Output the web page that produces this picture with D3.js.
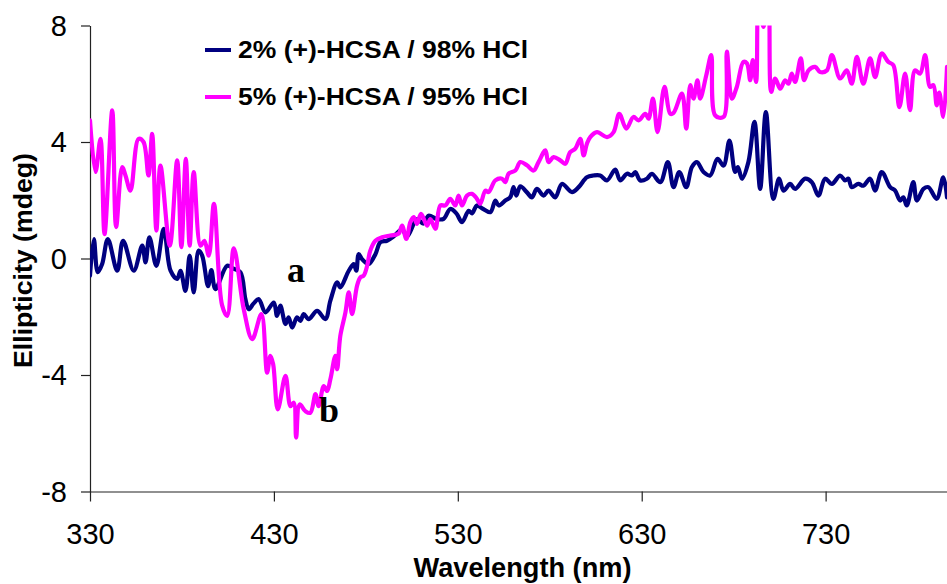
<!DOCTYPE html>
<html>
<head>
<meta charset="utf-8">
<script src="https://cdn.jsdelivr.net/npm/d3@7"></script>
<style>
  html, body { margin: 0; padding: 0; background: #fff; }
  svg { display: block; }
</style>
</head>
<body>
<svg id="chart" width="947" height="584"></svg>
<script>
// CD spectra of polyaniline doped with (+)-HCSA / HCl mixtures
const seriesNames = ["2% (+)-HCSA / 98% HCl", "5% (+)-HCSA / 95% HCl"];
const seriesColors = ["#000080", "#FF00FF"];

// Series a: 2% (+)-HCSA — wavelength (nm) and ellipticity (mdeg)
const wl2 = [330, 332.1, 334.2, 336.6, 339.7, 344.8, 348.0, 353.8, 358.4, 360.2, 362.3, 366.1, 370.1, 373.8, 377.4, 379.2, 381.9, 384.2, 386.4, 389.1, 391.0, 394.2, 396.0, 398.2, 404.6, 408.0, 411.8, 414.5, 416.3, 418.9, 421.7, 425.4, 429.9, 431.7, 433.5, 436.3, 438.0, 439.9, 442.6, 444.4, 446.2, 448.9, 453.5, 458.0, 460.7, 464.4, 466.1, 470.7, 473.4, 474.8, 476.1, 477.9, 481.5, 485.2, 487.9, 491.5, 495.0, 499.7, 502.4, 507.8, 511.3, 514.1, 518.7, 522.3, 525.9, 529.2, 532.3, 535.9, 537.7, 540.4, 543.2, 547.7, 550.4, 552.2, 555.8, 558.5, 560.3, 561.8, 564.0, 567.6, 570.3, 573.0, 576.6, 579.3, 583.0, 586.6, 592.1, 595.7, 600.2, 603.8, 607.4, 611.1, 615.6, 618.3, 622.0, 624.7, 626.5, 629.2, 632.8, 635.5, 640.1, 644.2, 647.3, 650.4, 654.2, 657.3, 660.0, 663.6, 667.2, 671.2, 674.5, 677.7, 680.8, 682.3, 684.5, 688.0, 691.3, 694.4, 697.5, 701.6, 704.7, 707.1, 710.7, 713.4, 718.9, 722.5, 726.1, 729.7, 733.4, 737.9, 740.6, 742.4, 744.2, 747.8, 750.5, 754.2, 756.9, 760.5, 765.1, 767.8, 770.5, 772.3, 774.1, 777.7, 779.6, 783.2, 785.9, 790.4, 794.0, 796.0];
const ell2 = [-0.59, 0.67, -0.47, -0.19, 0.67, -0.42, 0.61, -0.42, 0.44, -0.13, 0.73, -0.25, 1.02, -0.42, -0.70, -0.42, -1.11, 0.10, -1.16, 0.27, 0.10, -0.95, -0.40, -1.05, -0.25, -0.35, -0.47, -1.39, -1.74, -1.55, -1.39, -1.85, -1.51, -1.97, -1.62, -2.25, -2.02, -2.37, -2.02, -2.14, -1.91, -2.08, -1.80, -2.08, -1.45, -0.82, -0.99, -0.42, -0.19, -0.42, 0.15, -0.02, -0.19, 0.15, 0.56, 0.61, 0.75, 1.00, 0.75, 1.35, 1.20, 1.47, 1.35, 1.36, 1.70, 1.55, 1.25, 1.64, 1.55, 1.82, 1.72, 1.59, 1.99, 1.82, 1.99, 2.10, 2.45, 2.16, 2.48, 2.27, 2.10, 2.39, 2.16, 2.33, 2.10, 2.56, 2.28, 2.45, 2.79, 2.85, 2.85, 2.68, 3.05, 2.68, 2.91, 2.85, 2.97, 2.68, 2.74, 2.91, 2.62, 3.31, 2.45, 2.97, 2.45, 3.14, 3.31, 2.97, 2.85, 3.42, 3.19, 4.05, 2.97, 3.14, 2.74, 3.31, 4.69, 2.39, 5.03, 2.05, 2.74, 2.33, 2.56, 2.39, 2.74, 2.62, 2.16, 2.74, 2.56, 2.85, 2.68, 2.74, 2.45, 2.56, 2.50, 2.74, 2.33, 2.97, 2.45, 2.33, 1.99, 2.10, 1.82, 2.62, 1.99, 2.39, 2.45, 2.05, 2.79, 2.10];

// Series b: 5% (+)-HCSA — wavelength (nm) and ellipticity (mdeg)
const wl5 = [330.0, 333.0, 335.7, 337.9, 342.1, 344.2, 347.5, 349.3, 352.0, 356.4, 359.1, 361.8, 363.8, 366.1, 368.3, 373.4, 377.4, 379.7, 382.1, 384.2, 386.4, 390.1, 392.2, 394.6, 397.4, 401.8, 404.6, 408.2, 413.6, 418.2, 423.2, 426.3, 428.1, 429.6, 432.1, 436.3, 439.0, 440.8, 442.1, 444.0, 447.1, 449.8, 452.6, 454.3, 457.1, 458.9, 460.7, 463.4, 464.4, 466.1, 468.9, 470.7, 472.5, 475.2, 477.0, 478.8, 480.7, 482.4, 485.2, 488.8, 493.3, 497.8, 499.7, 502.0, 504.2, 506.0, 507.8, 510.0, 513.3, 515.1, 517.8, 520.5, 523.2, 525.9, 528.6, 530.4, 532.3, 535.0, 537.7, 540.4, 542.2, 545.0, 546.7, 550.4, 554.0, 555.8, 557.6, 561.3, 564.0, 567.6, 571.2, 573.9, 577.6, 579.3, 582.1, 585.7, 588.4, 591.1, 593.9, 596.6, 598.4, 600.2, 602.0, 605.7, 611.1, 614.7, 617.8, 621.6, 625.5, 628.3, 631.9, 633.7, 636.1, 638.6, 642.4, 645.5, 647.3, 651.9, 654.2, 656.4, 658.2, 660.3, 661.8, 665.1, 667.8, 670.0, 674.5, 676.3, 679.0, 681.7, 685.3, 687.2, 689.0, 690.4, 692.2, 693.5, 696.2, 698.9, 700.4, 702.6, 705.3, 708.0, 709.8, 711.6, 713.4, 716.5, 718.3, 720.7, 724.3, 727.0, 730.7, 733.4, 737.9, 741.5, 744.2, 747.0, 750.5, 754.2, 756.9, 760.5, 764.1, 766.8, 770.1, 773.2, 775.9, 778.6, 781.4, 784.1, 786.8, 788.6, 790.4, 791.8, 794.0, 796.0];
const ell5 = [4.74, 2.97, 4.11, 0.84, 5.09, 1.08, 3.14, 2.85, 2.33, 4.11, 4.00, 2.85, 4.28, 0.96, 3.19, 0.44, 3.37, 0.39, 3.42, 0.44, 2.97, 0.44, 0.61, 0.10, 1.88, -1.60, -1.97, 0.35, -1.74, -2.77, -1.91, -3.92, -3.34, -3.63, -5.18, -4.03, -5.07, -4.95, -6.15, -5.01, -5.24, -5.30, -4.66, -5.07, -4.38, -4.55, -4.15, -3.34, -3.80, -2.66, -1.85, -1.16, -1.91, -0.94, -0.65, -0.59, -0.25, 0.27, 0.61, 0.73, 0.79, 0.85, 1.13, 0.67, 1.25, 1.42, 1.19, 1.53, 1.13, 1.35, 1.02, 1.82, 1.82, 2.05, 1.82, 2.16, 1.82, 2.16, 2.22, 2.05, 1.88, 2.33, 2.28, 2.68, 2.74, 2.62, 2.91, 3.02, 3.31, 3.20, 3.02, 3.31, 3.71, 3.31, 3.48, 3.37, 3.25, 3.65, 3.77, 4.11, 3.54, 3.94, 4.17, 4.34, 4.17, 4.34, 4.97, 4.46, 4.86, 4.74, 4.97, 4.80, 5.49, 4.34, 5.89, 4.97, 5.00, 5.66, 4.46, 5.95, 5.49, 6.12, 5.49, 6.29, 6.98, 4.91, 4.86, 7.10, 5.49, 5.89, 6.75, 6.70, 6.12, 6.81, 6.06, 9.00, 7.95, 9.00, 5.72, 6.18, 5.83, 6.12, 6.00, 6.35, 6.06, 6.87, 6.12, 6.46, 6.58, 6.40, 6.46, 6.98, 6.18, 6.46, 6.00, 6.92, 6.00, 6.87, 6.23, 7.04, 6.75, 6.64, 5.20, 6.35, 5.09, 6.46, 6.35, 6.98, 5.89, 5.95, 5.26, 5.70, 4.86, 6.58];

const xTicks = [330, 430, 530, 630, 730];
const yTicks = [-8, -4, 0, 4, 8];
const xTitle = "Wavelength (nm)";
const yTitle = "Ellipticity (mdeg)";
const curveLabels = [
  { text: "a", wl: 442, v: -0.8 },
  { text: "b", wl: 460, v: -5.6 }
];

const svg = d3.select("#chart");
const W = 947, H = 584;
const plot = { left: 90, right: 947, top: 25.5, bottom: 491.5 };

const x = d3.scaleLinear().domain([330, 796]).range([plot.left, plot.right]);
const y = d3.scaleLinear().domain([-8, 8]).range([plot.bottom, plot.top]);

const sans = "'Liberation Sans', Arial, Helvetica, sans-serif";
const serif = "'Liberation Serif', 'Times New Roman', serif";
// plain hyphen-minus for negative tick values
const plainNumber = d => String(d);

svg.append("rect").attr("width", W).attr("height", H).attr("fill", "#fff");

svg.append("defs").append("clipPath").attr("id", "plotClip")
  .append("rect")
  .attr("x", plot.left).attr("y", plot.top)
  .attr("width", plot.right - plot.left).attr("height", plot.bottom - plot.top);

// Axes
const xAxis = d3.axisBottom(x).tickValues(xTicks).tickFormat(plainNumber)
  .tickSize(10).tickPadding(22).tickSizeOuter(0);
const yAxis = d3.axisLeft(y).tickValues(yTicks).tickFormat(plainNumber)
  .tickSize(9).tickPadding(14).tickSizeOuter(0);

const gx = svg.append("g").attr("transform", `translate(0,${plot.bottom})`).call(xAxis);
const gy = svg.append("g").attr("transform", `translate(${plot.left},0)`).call(yAxis);

[gx, gy].forEach(g => {
  g.select(".domain").attr("stroke", "#222").attr("stroke-width", 1.2);
  g.selectAll(".tick line").attr("stroke", "#222").attr("stroke-width", 1.2);
  g.selectAll(".tick text")
    .attr("fill", "#000")
    .style("font-family", sans)
    .style("font-size", "29px");
});
gx.selectAll(".tick text").attr("dy", "0.71em");
gy.selectAll(".tick text").attr("dy", "0.34em");

// Axis titles
svg.append("text")
  .attr("x", (plot.left + plot.right) / 2 + 4).attr("y", 577)
  .attr("text-anchor", "middle")
  .attr("textLength", 218).attr("lengthAdjust", "spacingAndGlyphs")
  .style("font-family", sans).style("font-weight", "bold").style("font-size", "27px")
  .text(xTitle);

svg.append("text")
  .attr("transform", `translate(32,${(plot.top + plot.bottom) / 2 + 2}) rotate(-90)`)
  .attr("text-anchor", "middle")
  .attr("textLength", 215).attr("lengthAdjust", "spacingAndGlyphs")
  .style("font-family", sans).style("font-weight", "bold").style("font-size", "26px")
  .text(yTitle);

// Spectra
const line = d3.line()
  .x(d => x(d[0]))
  .y(d => y(d[1]))
  .curve(d3.curveCatmullRom.alpha(0.5));

const series = [
  d3.zip(wl2, ell2),
  d3.zip(wl5, ell5)
];

const lines = svg.append("g").attr("clip-path", "url(#plotClip)");
lines.selectAll("path")
  .data(series)
  .join("path")
  .attr("d", line)
  .attr("fill", "none")
  .attr("stroke", (d, i) => seriesColors[i])
  .attr("stroke-width", 4.2)
  .attr("stroke-linejoin", "round")
  .attr("stroke-linecap", "round");

// Curve labels
svg.selectAll(".curve-label")
  .data(curveLabels)
  .join("text")
  .attr("class", "curve-label")
  .attr("x", d => x(d.wl))
  .attr("y", d => y(d.v))
  .attr("text-anchor", "middle")
  .style("font-family", serif).style("font-weight", "bold").style("font-size", "36px")
  .text(d => d.text);

// Legend
const legend = svg.append("g").attr("transform", "translate(205,50)");
const items = legend.selectAll("g")
  .data(seriesNames)
  .join("g")
  .attr("transform", (d, i) => `translate(0,${i * 47})`);
items.append("line")
  .attr("x1", 0).attr("x2", 26).attr("y1", 0).attr("y2", 0)
  .attr("stroke", (d, i) => seriesColors[i])
  .attr("stroke-width", 4);
items.append("text")
  .attr("x", 33).attr("y", 0).attr("dy", "0.35em")
  .attr("textLength", 290).attr("lengthAdjust", "spacingAndGlyphs")
  .style("font-family", sans).style("font-weight", "bold").style("font-size", "24px")
  .text(d => d);
</script>
</body>
</html>
